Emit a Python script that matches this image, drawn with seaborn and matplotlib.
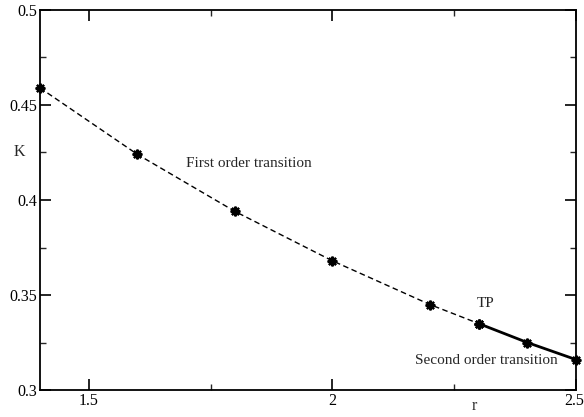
import matplotlib
matplotlib.use("Agg")
import matplotlib.pyplot as plt
import matplotlib.transforms as mtransforms
import seaborn as sns
import pandas as pd
from matplotlib.ticker import MultipleLocator

# Data
r_first = [1.4, 1.6, 1.8, 2.0, 2.2, 2.3]
k_first = [0.459, 0.424, 0.394, 0.368, 0.345, 0.335]
r_second = [2.3, 2.4, 2.5]
k_second = [0.335, 0.325, 0.316]

df1 = pd.DataFrame({"r": r_first, "K": k_first})
df2 = pd.DataFrame({"r": r_second, "K": k_second})

sns.set_style("ticks")
plt.rcParams['font.family'] = ['Liberation Serif', 'DejaVu Serif']

fig = plt.figure(figsize=(5.84, 4.17), dpi=100)
ax = fig.add_axes([40/584, 1-390/417, 536/584, 380/417])

mk = dict(marker=(8, 2, 0), markersize=7, markeredgewidth=1.6,
          markeredgecolor="black", markerfacecolor="black")
sns.lineplot(data=df1, x="r", y="K", ax=ax, color="black", lw=1.0,
             linestyle=(0, (4, 2.5)), clip_on=False, **mk)
sns.lineplot(data=df2, x="r", y="K", ax=ax, color="black", lw=2.0,
             clip_on=False, **mk)

ax.set_xlim(1.4, 2.5)
ax.set_ylim(0.3, 0.5)
ax.xaxis.set_major_locator(MultipleLocator(0.5))
ax.xaxis.set_minor_locator(MultipleLocator(0.25))
ax.yaxis.set_major_locator(MultipleLocator(0.05))
ax.yaxis.set_minor_locator(MultipleLocator(0.025))
ax.set_xticks([1.5, 2.0, 2.5])
ax.set_xticklabels(["1.5", "2", "2.5"])
ax.set_yticks([0.3, 0.35, 0.4, 0.45, 0.5])
ax.set_yticklabels(["0.3", "0.35", "0.4", "0.45", "0.5"])
ax.tick_params(which="major", direction="in", length=8, width=1.2,
               top=True, right=True, labelsize=11.5, pad=2, colors="black")
ax.tick_params(which="minor", direction="in", length=4, width=1.0,
               top=True, right=True)
for s in ax.spines.values():
    s.set_linewidth(1.3)
    s.set_color("black")

# keep the last x tick label inside the figure
last = ax.get_xticklabels()[-1]
last.set_horizontalalignment("right")
last.set_transform(last.get_transform() +
                   mtransforms.ScaledTranslation(6/72, 0, fig.dpi_scale_trans))

ax.set_xlabel("")
ax.set_ylabel("")
ax.text(1.3585, 0.425, "K", fontsize=11.5, ha="center", va="center", clip_on=False)
ax.text(2.292, 0.2915, "r", fontsize=11.5, ha="center", va="center", clip_on=False)
ax.text(1.7, 0.419, "First order transition", fontsize=11, ha="left", va="center")
ax.text(2.315, 0.3455, "TP", fontsize=11, ha="center", va="center")
ax.text(2.463, 0.3155, "Second order transition", fontsize=11, ha="right", va="center")

fig.savefig("out.png", dpi=100)
